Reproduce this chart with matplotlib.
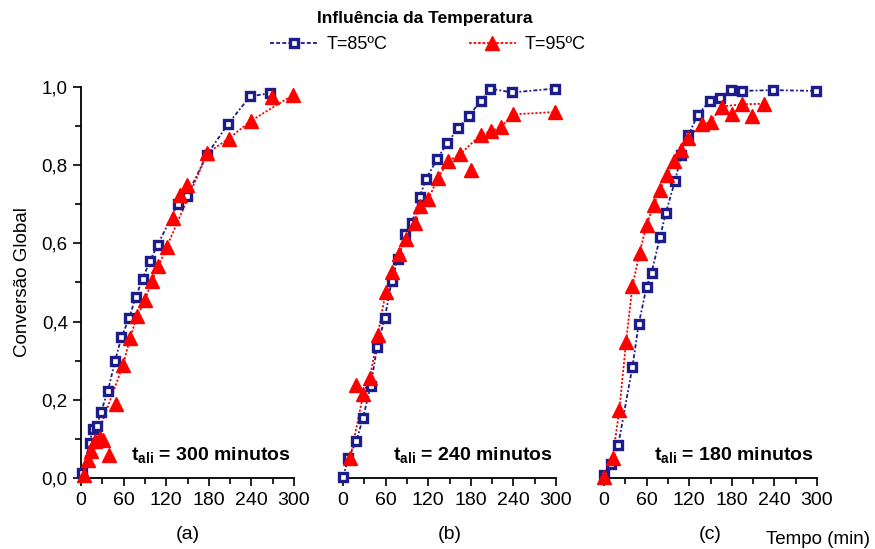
import matplotlib.pyplot as plt
from matplotlib.ticker import MultipleLocator, FuncFormatter

plt.rcParams['font.family'] = ['Liberation Sans', 'DejaVu Sans']
plt.rcParams['mathtext.fontset'] = 'custom'
plt.rcParams['mathtext.rm'] = 'Liberation Sans:bold'
plt.rcParams['mathtext.bf'] = 'Liberation Sans:bold'
plt.rcParams['mathtext.it'] = 'Liberation Sans:bold'

narrow = ['Liberation Sans Narrow', 'Liberation Sans', 'DejaVu Sans']

# ---- data ----
# (a) t_ali = 300 min
t85_a = [2, 12, 17, 22, 28, 38, 48, 57, 68, 77, 87, 97, 108, 136, 149, 177, 207, 238, 266]
x85_a = [0.013, 0.09, 0.126, 0.132, 0.168, 0.223, 0.30, 0.36, 0.41, 0.463, 0.51, 0.555,
         0.596, 0.70, 0.72, 0.826, 0.905, 0.976, 0.984]
t95_a = [4, 10, 14, 20, 27, 31, 39, 49, 59, 69, 79, 90, 100, 109, 121, 129, 139, 149,
         178, 208, 239, 269, 299]
x95_a = [0.007, 0.047, 0.068, 0.094, 0.102, 0.098, 0.058, 0.19, 0.288, 0.357, 0.414, 0.454,
         0.505, 0.541, 0.592, 0.664, 0.725, 0.75, 0.831, 0.868, 0.913, 0.974, 0.98]
off95_a = [4, 5, 6, 7, 15, 16, 17, 21]

# (b) t_ali = 240 min
t85_b = [0, 7.5, 19, 28, 39, 48, 59, 68.5, 77, 88, 97, 108, 117, 133, 147, 162, 177, 194,
         207.5, 238, 298.6]
x85_b = [0.003, 0.05, 0.095, 0.153, 0.235, 0.335, 0.41, 0.504, 0.56, 0.625, 0.652, 0.719,
         0.765, 0.817, 0.857, 0.894, 0.926, 0.964, 0.996, 0.986, 0.996]
t95_b = [10, 18, 28.6, 38, 49, 60, 68.5, 79, 89, 101, 108, 120, 134, 148, 165, 180, 194,
         208, 223, 239, 299]
x95_b = [0.05, 0.237, 0.215, 0.257, 0.366, 0.475, 0.528, 0.572, 0.61, 0.651, 0.695, 0.713,
         0.768, 0.81, 0.828, 0.788, 0.878, 0.887, 0.898, 0.93, 0.936]
off95_b = [1, 15]

# (c) t_ali = 180 min
t85_c = [0, 9.4, 20, 40, 49, 60, 67, 79, 87, 100, 109, 119, 132, 149, 163, 179, 194, 237.5,
         298.5]
x85_c = [0.008, 0.037, 0.084, 0.284, 0.395, 0.489, 0.525, 0.617, 0.677, 0.76, 0.826, 0.877,
         0.929, 0.964, 0.971, 0.992, 0.99, 0.992, 0.99]
t95_c = [0, 12, 21.6, 31, 40, 50, 60, 70, 79, 89, 99, 109, 119, 137.5, 150, 165.5, 180, 195,
         209, 226]
x95_c = [0.003, 0.05, 0.174, 0.347, 0.49, 0.575, 0.648, 0.697, 0.737, 0.776, 0.81, 0.84,
         0.87, 0.905, 0.91, 0.95, 0.93, 0.956, 0.926, 0.957]
off95_c = [16, 18]

panels = [
    (t85_a, x85_a, t95_a, x95_a, off95_a, '300', '(a)'),
    (t85_b, x85_b, t95_b, x95_b, off95_b, '240', '(b)'),
    (t85_c, x85_c, t95_c, x95_c, off95_c, '180', '(c)'),
]

blue = '#1c1c8a'
red = '#ff0000'

fig = plt.figure(figsize=(8.75, 5.49), dpi=100)
lefts = [81 / 875, 343 / 875, 604 / 875]
w = 213 / 875
b = 1 - 478 / 549
h = (478 - 87) / 549

comma = FuncFormatter(lambda v, p: ('%.1f' % v).replace('.', ','))

for i, (t85, x85, t95, x95, off, tali, lab) in enumerate(panels):
    ax = fig.add_axes([lefts[i], b, w, h])
    ax.set_xlim(0, 300)
    ax.set_ylim(0, 1.0)
    for s in ['top', 'right']:
        ax.spines[s].set_visible(False)
    ax.spines['bottom'].set_linewidth(1.3)
    ax.spines['left'].set_linewidth(1.3)

    # lines through the points (outliers left off the red line)
    ax.plot(t85, x85, color=blue, lw=1.3, ls=(0, (2.2, 1.2, 1, 1.2)), zorder=2, clip_on=False)
    tl = [t for k, t in enumerate(t95) if k not in off]
    xl = [x for k, x in enumerate(x95) if k not in off]
    ax.plot(tl, xl, color=red, lw=1.3, ls=(0, (1.2, 1.0)), zorder=2, clip_on=False)

    ax.plot(t85, x85, ls='none', marker='s', ms=6, mfc='white', mec=blue, mew=2.4,
            zorder=3, clip_on=False)
    ax.plot(t95, x95, ls='none', marker='^', ms=10, mfc=red, mec=red, zorder=4, clip_on=False)

    ax.xaxis.set_major_locator(MultipleLocator(60))
    ax.xaxis.set_minor_locator(MultipleLocator(30))
    ax.tick_params(axis='x', which='major', length=6, width=1.2, labelsize=14, pad=4)
    ax.tick_params(axis='x', which='minor', length=4, width=1.2)
    for lbl in ax.get_xticklabels():
        lbl.set_family(narrow)

    if i == 0:
        ax.yaxis.set_major_locator(MultipleLocator(0.2))
        ax.yaxis.set_minor_locator(MultipleLocator(0.1))
        ax.yaxis.set_major_formatter(comma)
        ax.tick_params(axis='y', which='major', length=6, width=1.2, labelsize=13.5)
        ax.tick_params(axis='y', which='minor', length=4, width=1.2)
        ax.set_ylabel('Conversão Global', fontsize=13.5, labelpad=8)
    else:
        ax.spines['left'].set_visible(False)
        ax.set_yticks([])

    ax.text(0.985, 0.06, r'$\mathrm{t_{ali}}$' + ' = ' + tali + ' minutos',
            transform=ax.transAxes, ha='right', va='center', fontsize=14, fontweight='bold')
    ax.text(0.5, -0.145, lab, transform=ax.transAxes, ha='center', va='center', fontsize=14,
            family=narrow)

fig.text(818 / 875, 1 - 540 / 549, 'Tempo (min)', ha='center', va='center', fontsize=13.5,
         family=narrow)
fig.text(425 / 875, 1 - 18 / 549, 'Influência da Temperatura', ha='center', va='center',
         fontsize=12.5, fontweight='bold')

h85, = plt.plot([], [], color=blue, lw=1.3, ls=(0, (2.2, 1.2)), marker='s', ms=6,
                mfc='white', mec=blue, mew=2.4)
h95, = plt.plot([], [], color=red, lw=1.3, ls=(0, (1.5, 1.0)), marker='^', ms=10,
                mfc=red, mec=red)
fig.legend([h85, h95], ['T=85ºC', 'T=95ºC'], loc='center', bbox_to_anchor=(428 / 875, 1 - 45 / 549),
           ncol=2, frameon=False, fontsize=13, columnspacing=4.5, handlelength=2.6,
           handletextpad=0.5)

fig.savefig('out.png', dpi=100)
